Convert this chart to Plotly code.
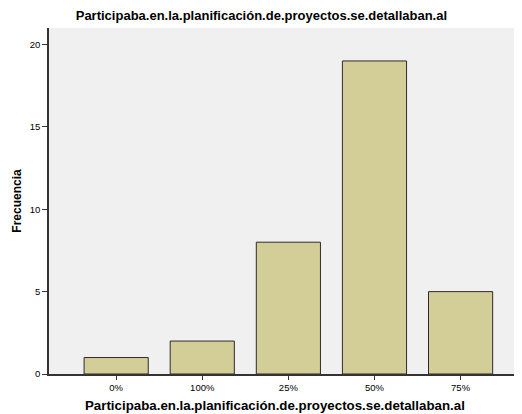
import plotly.graph_objects as go

categories = ["0%", "100%", "25%", "50%", "75%"]
frecuencia = [1, 2, 8, 19, 5]
y_ticks = [0, 5, 10, 15, 20]

title_text = "Participaba.en.la.planificación.de.proyectos.se.detallaban.al"

fig = go.Figure(go.Bar(
    x=categories, y=frecuencia,
    marker=dict(color="#D3CE97", line=dict(color="#2b2b2b", width=1)),
    width=0.745,
))

# page body has an 8px margin, so the figure is sized to fill the rest
fig.update_layout(
    width=514, height=406,
    margin=dict(l=41, r=2, t=20, b=40),
    paper_bgcolor="white",
    plot_bgcolor="#F0F0F0",
    font=dict(family="Arial, Liberation Sans, sans-serif", color="#000000", size=9.5),
    title=dict(text="<b>" + title_text + "</b>", x=0.493, xanchor="center",
               y=0.982, yanchor="middle", font=dict(size=13)),
    showlegend=False,
)
# x-axis title sits a little left of the plot centre, as in the original
fig.add_annotation(
    text="<b>" + title_text + "</b>", xref="paper", yref="paper",
    x=0.48, y=0, xanchor="center", yanchor="middle", yshift=-31,
    showarrow=False, font=dict(size=13.3),
)
fig.update_xaxes(
    type="category", range=[-0.78, 4.69], automargin=False,
    showline=True, linecolor="#333333", linewidth=1.5,
    ticks="outside", ticklen=4, tickcolor="#333333",
    showgrid=False, zeroline=False,
)
fig.update_yaxes(
    range=[0, 21], tickvals=y_ticks, automargin=False,
    showline=True, linecolor="#333333", linewidth=1.5,
    ticks="outside", ticklen=5, tickcolor="#333333",
    showgrid=False, zeroline=False,
    title=dict(text="<b>Frecuencia</b>", font=dict(size=12), standoff=6),
)

fig.write_html("out.html")
